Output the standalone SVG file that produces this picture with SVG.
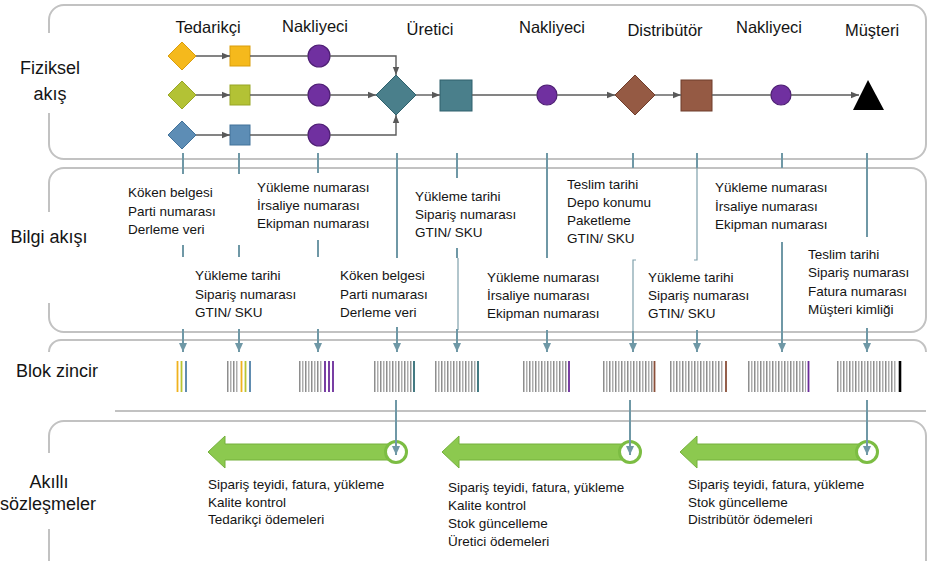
<svg xmlns="http://www.w3.org/2000/svg" width="928" height="561" viewBox="0 0 928 561">
  <defs>
    <style>
      .panel{fill:none;stroke:#c2c2c2;stroke-width:2}
      .flow{fill:none;stroke:#5b5b5b;stroke-width:1.4}
      .link{fill:none;stroke:#6f98a6;stroke-width:2}
      .thin{fill:none;stroke:#7fa0ab;stroke-width:1.2}
      text{font-family:"Liberation Sans",Arial,sans-serif;fill:#141414}
      .lane{font-size:18px;text-anchor:middle}
      .actor{font-size:16.5px;text-anchor:middle}
      .info{font-size:13.5px}
      .bar{stroke-width:1.8}
      .green{fill:#8cc94f;stroke:#74b03d;stroke-width:1}
      .hub{fill:#ffffff;stroke:#7cbd43;stroke-width:3}
    </style>
    <marker id="ah" viewBox="0 0 8 8" refX="8" refY="4" markerWidth="8" markerHeight="8" markerUnits="userSpaceOnUse" orient="auto">
      <path d="M0 0.8 L8 4 L0 7.2 Z" fill="#595959"/>
    </marker>
    <marker id="ta" viewBox="0 0 9 9" refX="9" refY="4.5" markerWidth="9" markerHeight="9" markerUnits="userSpaceOnUse" orient="auto">
      <path d="M0 0.5 L9 4.5 L0 8.5 Z" fill="#6f98a6"/>
    </marker>
    <pattern id="chain" width="6" height="31" patternUnits="userSpaceOnUse">
      <rect x="0" y="0" width="1.5" height="31" fill="#8e8e8e"/>
      <rect x="3" y="0" width="1.5" height="31" fill="#adadad"/>
    </pattern>
  </defs>

  <rect width="928" height="561" fill="#ffffff"/>

  <!-- swimlane frames -->
  <g id="lanes">
    <path class="panel" d="M49 33 V20 A15 15 0 0 1 64 5 H911 A15 15 0 0 1 926 20 V144 A15 15 0 0 1 911 159 H64 A15 15 0 0 1 49 144 V113"/>
    <path class="panel" d="M49 212 V183 A15 15 0 0 1 64 168 H911 A15 15 0 0 1 926 183 V317 A15 15 0 0 1 911 332 H64 A15 15 0 0 1 49 317 V303"/>
    <path class="panel" d="M49 352 A12 12 0 0 1 61 340 H914 A12 12 0 0 1 926 352"/>
    <path class="panel" d="M115 411 H926"/>
    <path class="panel" d="M49 453 V436 A15 15 0 0 1 64 421 H911 A15 15 0 0 1 926 436 V561 M49 529 V561"/>
    <text class="lane" x="50" y="74">Fiziksel</text>
    <text class="lane" x="50" y="100">akış</text>
    <text class="lane" x="49" y="243">Bilgi akışı</text>
    <text class="lane" x="57" y="377">Blok zincir</text>
    <text class="lane" x="49" y="488">Akıllı</text>
    <text class="lane" x="48" y="510">sözleşmeler</text>
  </g>

  <!-- actor headings -->
  <g id="actors">
    <text class="actor" x="208" y="33">Tedarikçi</text>
    <text class="actor" x="315" y="32">Nakliyeci</text>
    <text class="actor" x="430" y="35">Üretici</text>
    <text class="actor" x="552" y="33">Nakliyeci</text>
    <text class="actor" x="665" y="36">Distribütör</text>
    <text class="actor" x="769" y="33">Nakliyeci</text>
    <text class="actor" x="872" y="36">Müşteri</text>
  </g>

  <!-- physical nodes -->
  <g id="supplier-origin-a"><path d="M168 56 L182 42 L196 56 L182 70 Z" fill="#f5b91c" stroke="#d99d0c" stroke-width="1"/></g>
  <g id="supplier-origin-b"><path d="M168 95 L182 81 L196 95 L182 109 Z" fill="#b3c235" stroke="#98a527" stroke-width="1"/></g>
  <g id="supplier-origin-c"><path d="M168 135 L182 121 L196 135 L182 149 Z" fill="#5d8db5" stroke="#42729a" stroke-width="1"/></g>
  <g id="supplier-site-a"><rect x="230" y="46" width="20" height="20" fill="#f5b91c" stroke="#d99d0c" stroke-width="1"/></g>
  <g id="supplier-site-b"><rect x="230" y="85" width="20" height="20" fill="#b3c235" stroke="#98a527" stroke-width="1"/></g>
  <g id="supplier-site-c"><rect x="230" y="125" width="20" height="20" fill="#5d8db5" stroke="#42729a" stroke-width="1"/></g>
  <g id="carrier-a"><circle cx="319" cy="56" r="11" fill="#7030a0" stroke="#4e1f74" stroke-width="1.2"/></g>
  <g id="carrier-b"><circle cx="319" cy="95" r="11" fill="#7030a0" stroke="#4e1f74" stroke-width="1.2"/></g>
  <g id="carrier-c"><circle cx="319" cy="135" r="11" fill="#7030a0" stroke="#4e1f74" stroke-width="1.2"/></g>
  <g id="manufacturer-intake"><path d="M376 95 L396 75 L416 95 L396 115 Z" fill="#4a7f8b" stroke="#2f616c" stroke-width="1"/></g>
  <g id="manufacturer-plant"><rect x="440" y="80" width="32" height="31" fill="#4a7f8b" stroke="#2f616c" stroke-width="1"/></g>
  <g id="carrier-d"><circle cx="547" cy="95" r="10" fill="#7030a0" stroke="#4e1f74" stroke-width="1.2"/></g>
  <g id="distributor-intake"><path d="M615 95 L635 75 L655 95 L635 115 Z" fill="#955a44" stroke="#6f3d2b" stroke-width="1"/></g>
  <g id="distributor-depot"><rect x="681" y="80" width="31" height="31" fill="#955a44" stroke="#6f3d2b" stroke-width="1"/></g>
  <g id="carrier-e"><circle cx="781" cy="95" r="10" fill="#7030a0" stroke="#4e1f74" stroke-width="1.2"/></g>
  <g id="customer"><path d="M853 110 L868 80 L884 110 Z" fill="#000000"/></g>

  <!-- information records -->
  <g id="info-origin">
    <text class="info" x="128" y="197">Köken belgesi</text>
    <text class="info" x="128" y="215.5">Parti numarası</text>
    <text class="info" x="128" y="234">Derleme veri</text>
  </g>
  <g id="info-shipment-1">
    <text class="info" x="257" y="192">Yükleme numarası</text>
    <text class="info" x="257" y="210">İrsaliye numarası</text>
    <text class="info" x="257" y="228">Ekipman numarası</text>
  </g>
  <g id="info-order-1">
    <text class="info" x="195" y="280">Yükleme tarihi</text>
    <text class="info" x="195" y="298.5">Sipariş numarası</text>
    <text class="info" x="195" y="317">GTIN/ SKU</text>
  </g>
  <g id="info-origin-2">
    <text class="info" x="340" y="280">Köken belgesi</text>
    <text class="info" x="340" y="298.5">Parti numarası</text>
    <text class="info" x="340" y="317">Derleme veri</text>
  </g>
  <g id="info-order-2">
    <text class="info" x="415" y="201">Yükleme tarihi</text>
    <text class="info" x="415" y="219">Sipariş numarası</text>
    <text class="info" x="415" y="237">GTIN/ SKU</text>
  </g>
  <g id="info-shipment-2">
    <text class="info" x="487" y="282">Yükleme numarası</text>
    <text class="info" x="487" y="300">İrsaliye numarası</text>
    <text class="info" x="487" y="318">Ekipman numarası</text>
  </g>
  <g id="info-warehouse">
    <text class="info" x="567" y="189">Teslim tarihi</text>
    <text class="info" x="567" y="207">Depo konumu</text>
    <text class="info" x="567" y="225">Paketleme</text>
    <text class="info" x="567" y="243">GTIN/ SKU</text>
  </g>
  <g id="info-order-3">
    <text class="info" x="648" y="282">Yükleme tarihi</text>
    <text class="info" x="648" y="300">Sipariş numarası</text>
    <text class="info" x="648" y="318">GTIN/ SKU</text>
  </g>
  <g id="info-shipment-3">
    <text class="info" x="715" y="192">Yükleme numarası</text>
    <text class="info" x="715" y="210.5">İrsaliye numarası</text>
    <text class="info" x="715" y="228.5">Ekipman numarası</text>
  </g>
  <g id="info-delivery">
    <text class="info" x="808" y="259">Teslim tarihi</text>
    <text class="info" x="808" y="277">Sipariş numarası</text>
    <text class="info" x="808" y="295.5">Fatura numarası</text>
    <text class="info" x="808" y="314">Müşteri kimliği</text>
  </g>

  <!-- chain blocks: grey history stripes plus the newest record -->
  <g id="block-1">
    <line class="bar" x1="177.5" y1="361" x2="177.5" y2="392" stroke="#f0b21e"/>
    <line class="bar" x1="181.5" y1="361" x2="181.5" y2="392" stroke="#b9c431"/>
    <line class="bar" x1="186" y1="361" x2="186" y2="392" stroke="#4f7fa8"/>
  </g>
  <g id="block-2">
    <rect transform="translate(227 361)" width="11" height="31" fill="url(#chain)"/>
    <line class="bar" x1="241.5" y1="361" x2="241.5" y2="392" stroke="#f0b21e"/>
    <line class="bar" x1="245.5" y1="361" x2="245.5" y2="392" stroke="#b9c431"/>
    <line class="bar" x1="250" y1="361" x2="250" y2="392" stroke="#4f7fa8"/>
  </g>
  <g id="block-3">
    <rect transform="translate(299 361)" width="23" height="31" fill="url(#chain)"/>
    <line class="bar" x1="325" y1="361" x2="325" y2="392" stroke="#6a2a9a"/>
    <line class="bar" x1="329" y1="361" x2="329" y2="392" stroke="#6a2a9a"/>
    <line class="bar" x1="333" y1="361" x2="333" y2="392" stroke="#6a2a9a"/>
  </g>
  <g id="block-4">
    <rect transform="translate(374 361)" width="38" height="31" fill="url(#chain)"/>
    <line class="bar" x1="414" y1="361" x2="414" y2="392" stroke="#2f6b74"/>
  </g>
  <g id="block-5">
    <rect transform="translate(435 361)" width="41" height="31" fill="url(#chain)"/>
    <line class="bar" x1="478" y1="361" x2="478" y2="392" stroke="#2f6b74"/>
  </g>
  <g id="block-6">
    <rect transform="translate(523 361)" width="44" height="31" fill="url(#chain)"/>
    <line class="bar" x1="569" y1="361" x2="569" y2="392" stroke="#6a2a9a"/>
  </g>
  <g id="block-7">
    <rect transform="translate(603 361)" width="50" height="31" fill="url(#chain)"/>
    <line class="bar" x1="654.5" y1="361" x2="654.5" y2="392" stroke="#8a4e38"/>
  </g>
  <g id="block-8">
    <rect transform="translate(670 361)" width="54" height="31" fill="url(#chain)"/>
    <line class="bar" x1="726" y1="361" x2="726" y2="392" stroke="#8a4e38"/>
  </g>
  <g id="block-9">
    <rect transform="translate(748 361)" width="58" height="31" fill="url(#chain)"/>
    <line class="bar" x1="808.5" y1="361" x2="808.5" y2="392" stroke="#6a2a9a"/>
  </g>
  <g id="block-10">
    <rect transform="translate(837 361)" width="60" height="31" fill="url(#chain)"/>
    <line x1="900" y1="361" x2="900" y2="392" stroke="#000000" stroke-width="2.6"/>
  </g>

  <!-- smart contracts -->
  <g id="contract-manufacturer">
    <path class="green" d="M208 452 L225 436 L225 444 L396 444 L396 460 L225 460 L225 468 Z"/>
    <circle class="hub" cx="396" cy="452" r="10.5"/>
    <text class="info" x="208" y="489">Sipariş teyidi, fatura, yükleme</text>
    <text class="info" x="208" y="507">Kalite kontrol</text>
    <text class="info" x="208" y="524">Tedarikçi ödemeleri</text>
  </g>
  <g id="contract-distributor">
    <path class="green" d="M442 452 L459 436 L459 444 L630 444 L630 460 L459 460 L459 468 Z"/>
    <circle class="hub" cx="630" cy="452" r="10.5"/>
    <text class="info" x="448" y="492">Sipariş teyidi, fatura, yükleme</text>
    <text class="info" x="448" y="509.5">Kalite kontrol</text>
    <text class="info" x="448" y="527.5">Stok güncelleme</text>
    <text class="info" x="448" y="546">Üretici ödemeleri</text>
  </g>
  <g id="contract-customer">
    <path class="green" d="M680 452 L697 436 L697 444 L867 444 L867 460 L697 460 L697 468 Z"/>
    <circle class="hub" cx="867" cy="452" r="10.5"/>
    <text class="info" x="688" y="489">Sipariş teyidi, fatura, yükleme</text>
    <text class="info" x="688" y="507">Stok güncelleme</text>
    <text class="info" x="688" y="524">Distribütör ödemeleri</text>
  </g>

  <!-- connectors (drawn last so the arrow tips sit inside the contract rings) -->
  <g id="connectors">
    <!-- physical flow -->
    <path class="flow" marker-end="url(#ah)" d="M196 56 H230"/>
    <path class="flow" marker-end="url(#ah)" d="M196 95 H230"/>
    <path class="flow" marker-end="url(#ah)" d="M196 135 H230"/>
    <path class="flow" d="M250 56 H308 M250 95 H308 M250 135 H308"/>
    <path class="flow" marker-end="url(#ah)" d="M330 56 H396 V75"/>
    <path class="flow" marker-end="url(#ah)" d="M330 95 H376"/>
    <path class="flow" marker-end="url(#ah)" d="M330 135 H396 V115"/>
    <path class="flow" marker-end="url(#ah)" d="M416 95 H440"/>
    <path class="flow" d="M472 95 H537"/>
    <path class="flow" marker-end="url(#ah)" d="M557 95 H615"/>
    <path class="flow" marker-end="url(#ah)" d="M655 95 H681"/>
    <path class="flow" d="M712 95 H771"/>
    <path class="flow" marker-end="url(#ah)" d="M791 95 H859"/>

    <!-- information links down to the chain -->
    <path class="link" d="M183 153 V174 M183 245 V257"/>
    <path class="link" marker-end="url(#ta)" d="M183 329 V352"/>
    <path class="link" d="M239 153 V174 M239 245 V257"/>
    <path class="link" marker-end="url(#ta)" d="M239 329 V352"/>
    <path class="link" d="M318 153 V173 M318 240 V257"/>
    <path class="link" marker-end="url(#ta)" d="M318 329 V352"/>
    <path class="link" d="M397 153 V258"/>
    <path class="link" marker-end="url(#ta)" d="M397 327 V352"/>
    <path class="link" d="M457 153 V178 M457 248 V258"/>
    <path class="thin" d="M458 258 V330"/>
    <path class="link" marker-end="url(#ta)" d="M457 329 V352"/>
    <path class="link" d="M547 153 V258"/>
    <path class="link" marker-end="url(#ta)" d="M547 330 V352"/>
    <path class="link" d="M633 153 V168"/>
    <path class="thin" d="M636 260 H633 V332"/>
    <path class="link" marker-end="url(#ta)" d="M633 331 V352"/>
    <path class="thin" d="M697 153 V260 H694"/>
    <path class="link" d="M697 153 V168"/>
    <path class="link" marker-end="url(#ta)" d="M697 330 V352"/>
    <path class="link" d="M782 153 V168"/>
    <path class="link" marker-end="url(#ta)" d="M782 242 V352"/>
    <path class="link" d="M867 153 V237"/>
    <path class="link" marker-end="url(#ta)" d="M867 328 V352"/>

    <!-- chain to smart contracts -->
    <path class="link" marker-end="url(#ta)" d="M396 400 V455"/>
    <path class="link" marker-end="url(#ta)" d="M630 400 V455"/>
    <path class="link" marker-end="url(#ta)" d="M867 400 V455"/>
  </g>
</svg>
